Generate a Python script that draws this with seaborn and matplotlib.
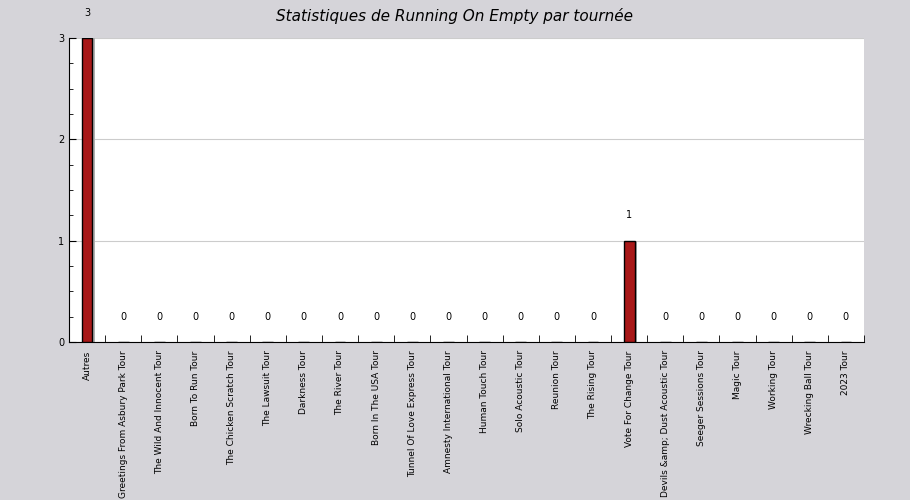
import matplotlib
matplotlib.use("Agg")
import matplotlib.pyplot as plt
import seaborn as sns
import pandas as pd
import numpy as np
from matplotlib.ticker import MultipleLocator

tours = ["Autres", "Greetings From Asbury Park Tour", "The Wild And Innocent Tour", "Born To Run Tour",
         "The Chicken Scratch Tour", "The Lawsuit Tour", "Darkness Tour", "The River Tour",
         "Born In The USA Tour", "Tunnel Of Love Express Tour", "Amnesty International Tour",
         "Human Touch Tour", "Solo Acoustic Tour", "Reunion Tour", "The Rising Tour",
         "Vote For Change Tour", "Devils &amp; Dust Acoustic Tour", "Seeger Sessions Tour",
         "Magic Tour", "Working Tour", "Wrecking Ball Tour", "2023 Tour"]
counts = [3, 0, 0, 0, 0, 0, 0, 0, 0, 0, 0, 0, 0, 0, 0, 1, 0, 0, 0, 0, 0, 0]

df = pd.DataFrame({"tour": tours, "count": counts})
bg = "#d5d4d9"
fig = plt.figure(figsize=(9.1, 5.0), dpi=100, facecolor=bg)
ax = fig.add_axes([69/910, 1-342/500, (864-69)/910, (342-38)/500])
ax.set_facecolor("white")

x = np.arange(len(tours))
# shadow
ax.bar(x + 0.08, df["count"], width=0.3, color="#b0b0b0", zorder=2)
sns.barplot(data=df, x="tour", y="count", ax=ax, width=0.3, color="#a81818",
            edgecolor="black", linewidth=1, saturation=1, zorder=3)
ax.set_xlim(-0.5, len(tours) - 0.5)
ax.set_ylim(0, 3)
ax.yaxis.set_major_locator(MultipleLocator(1))
ax.yaxis.set_minor_locator(MultipleLocator(0.25))
ax.grid(axis="y", color="#cccccc", linewidth=0.8, zorder=0)
ax.set_axisbelow(True)
for s in ["top", "right"]:
    ax.spines[s].set_visible(False)
ax.set_xlabel("")
ax.set_ylabel("")
ax.set_xticks(x)
ax.set_xticklabels(tours, rotation=90, fontsize=6.5)
ax.set_xticks(np.arange(len(tours)) + 0.5, minor=True)
ax.tick_params(axis="x", which="major", length=0, pad=6)
ax.tick_params(axis="x", which="minor", direction="in", length=5)
ax.tick_params(axis="y", which="major", direction="in", length=5, labelsize=7)
ax.tick_params(axis="y", which="minor", direction="in", length=3)
for i, v in enumerate(counts):
    ax.text(i, v + 0.2, str(v), ha="center", va="bottom", fontsize=7, clip_on=False)
fig.text(0.5, 0.968, "Statistiques de Running On Empty par tournée", ha="center", va="center",
         fontsize=11, style="italic")
fig.savefig("out.png", dpi=100, facecolor=bg)
